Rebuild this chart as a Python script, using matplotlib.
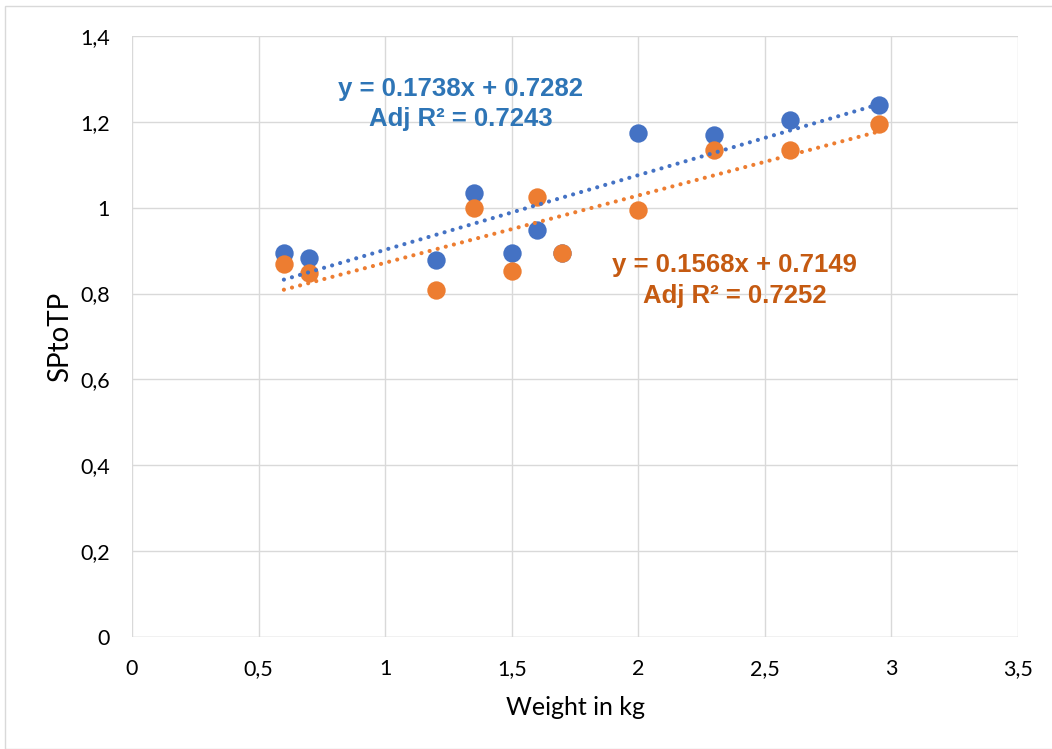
import matplotlib
matplotlib.use("Agg")
import matplotlib.pyplot as plt
from matplotlib.patches import Rectangle
import numpy as np

# Data
weights_blue = [0.6, 0.7, 1.2, 1.35, 1.5, 1.6, 1.7, 2.0, 2.3, 2.6, 2.95]
sptotp_blue = [0.894, 0.883, 0.878, 1.034, 0.894, 0.948, 0.894, 1.174, 1.169, 1.204, 1.239]
weights_orange = [0.6, 0.7, 1.2, 1.35, 1.5, 1.6, 1.7, 2.0, 2.3, 2.6, 2.95]
sptotp_orange = [0.869, 0.848, 0.808, 0.999, 0.853, 1.025, 0.894, 0.995, 1.134, 1.134, 1.195]
fit_blue = (0.1738, 0.7282)
fit_orange = (0.1568, 0.7149)
label_blue = "y = 0.1738x + 0.7282\nAdj R² = 0.7243"
label_orange = "y = 0.1568x + 0.7149\nAdj R² = 0.7252"
xticks = [0, 0.5, 1, 1.5, 2, 2.5, 3, 3.5]
yticks = [0, 0.2, 0.4, 0.6, 0.8, 1.0, 1.2, 1.4]

def fmt(v):
    return ("%g" % v).replace(".", ",")

font = ["Liberation Sans", "DejaVu Sans"]
tickfont = ["Lato", "Liberation Sans", "DejaVu Sans"]

W, H = 1052, 749
fig = plt.figure(figsize=(W / 100, H / 100), dpi=100)
fig.patch.set_facecolor("white")
fig.patches.append(Rectangle((5 / W, 0), 1.0, 1 - 6 / H, transform=fig.transFigure,
                             fill=False, edgecolor="#d9d9d9", linewidth=1.0))

ax = fig.add_axes([132 / W, 1 - 637 / H, (1018 - 132) / W, (637 - 36) / H])
ax.set_xlim(0, 3.5)
ax.set_ylim(0, 1.4)
ax.set_xticks(xticks)
ax.set_yticks(yticks)
ax.set_xticklabels([fmt(v) for v in xticks], fontfamily=tickfont, fontsize=15.5)
ax.set_yticklabels([fmt(v) for v in yticks], fontfamily=tickfont, fontsize=15.5)
ax.tick_params(axis="x", length=0, pad=16)
ax.tick_params(axis="y", length=0, pad=16)
ax.grid(True, color="#d9d9d9", linewidth=1.0)
ax.set_axisbelow(True)
for s in ax.spines.values():
    s.set_visible(False)
ax.axhline(0, color="#d9d9d9", linewidth=1.0, zorder=0.5)

ax.scatter(weights_blue, sptotp_blue, s=175, color="#4472C4", zorder=3, linewidths=0)
ax.scatter(weights_orange, sptotp_orange, s=175, color="#ED7D31", zorder=4, linewidths=0)

dotted = (0, (0.01, 2.0))
xb = np.array([min(weights_blue), max(weights_blue)])
ax.plot(xb, fit_blue[0] * xb + fit_blue[1], linestyle=dotted, color="#4472C4",
        linewidth=3.0, dash_capstyle="round", zorder=5)
xo = np.array([min(weights_orange), max(weights_orange)])
ax.plot(xo, fit_orange[0] * xo + fit_orange[1], linestyle=dotted, color="#ED7D31",
        linewidth=3.0, dash_capstyle="round", zorder=5)

ax.text(1.297, 1.242, label_blue, color="#2E75B6", fontsize=18.5, fontweight="bold",
        ha="center", va="center", family=font, linespacing=1.35, zorder=6)
ax.text(2.38, 0.830, label_orange, color="#C55A11", fontsize=18.5, fontweight="bold",
        ha="center", va="center", family=font, linespacing=1.35, zorder=6)

ax.set_xlabel("Weight in kg", fontsize=18, fontfamily=tickfont, labelpad=12)
ax.set_ylabel("SPtoTP", fontsize=20, fontfamily=tickfont, labelpad=5)

fig.savefig("out.png", dpi=100)
